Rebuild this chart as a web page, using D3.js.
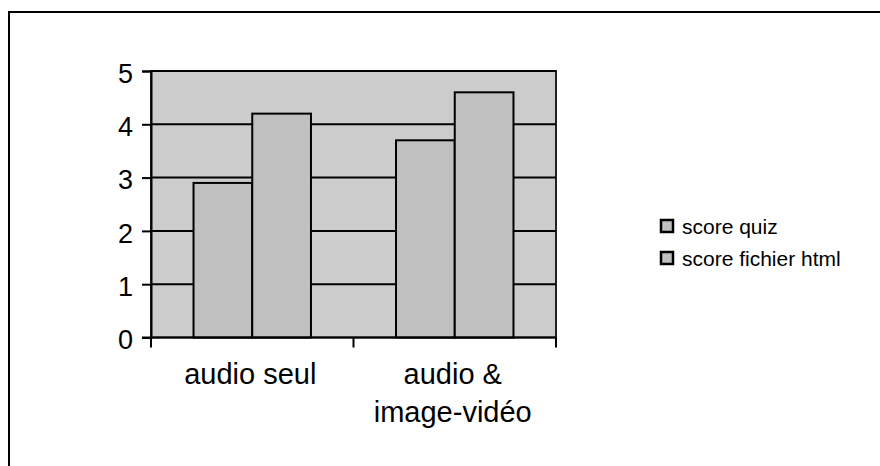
<!DOCTYPE html>
<html>
<head>
<meta charset="utf-8">
<script src="https://cdn.jsdelivr.net/npm/d3@7"></script>
<style>
  html, body { margin: 0; padding: 0; background: #fff; }
  svg { display: block; font-family: Arial, "Liberation Sans", sans-serif; }
</style>
</head>
<body>
<svg id="chart" width="880" height="466"></svg>
<script>
// Chart data
const categories = [["audio seul"], ["audio &", "image-vidéo"]];
const seriesNames = ["score quiz", "score fichier html"];
const scoreQuiz = [2.9, 3.7];
const scoreHtml = [4.2, 4.6];
const yTicks = [0, 1, 2, 3, 4, 5];

const svg = d3.select("#chart");
const W = 880, H = 466;
const plot = { left: 151, top: 71, right: 556, bottom: 337.5 };

// Outer frame (runs past the right and bottom edges)
svg.append("rect")
  .attr("x", 9).attr("y", 12)
  .attr("width", W + 20).attr("height", H + 20)
  .attr("fill", "#fff").attr("stroke", "#000").attr("stroke-width", 2);

const catKeys = categories.map(c => c.join(" "));
const x0 = d3.scaleBand().domain(catKeys).range([plot.left, plot.right]).padding(0);
const bw = x0.bandwidth();
const x1 = d3.scaleBand().domain(seriesNames).range([bw * 0.21, bw * 0.79]).padding(0);
const y = d3.scaleLinear().domain([0, 5]).range([plot.bottom, plot.top]);

// Plot background with its frame
svg.append("rect")
  .attr("x", plot.left).attr("y", plot.top)
  .attr("width", plot.right - plot.left).attr("height", plot.bottom - plot.top)
  .attr("fill", "#cccccc").attr("stroke", "#222").attr("stroke-width", 2);

// Horizontal gridlines
svg.append("g").selectAll("line")
  .data(yTicks.filter(t => t > 0))
  .join("line")
  .attr("x1", plot.left).attr("x2", plot.right)
  .attr("y1", d => y(d)).attr("y2", d => y(d))
  .attr("stroke", "#000").attr("stroke-width", 2);

// Bars
const rows = catKeys.map((k, i) => ({ key: k, values: [scoreQuiz[i], scoreHtml[i]] }));
const groups = svg.append("g").selectAll("g")
  .data(rows).join("g")
  .attr("transform", d => `translate(${x0(d.key)},0)`);
groups.selectAll("rect")
  .data(d => d.values.map((v, j) => ({ name: seriesNames[j], v })))
  .join("rect")
  .attr("x", d => x1(d.name))
  .attr("y", d => y(d.v))
  .attr("width", x1.bandwidth())
  .attr("height", d => y(0) - y(d.v))
  .attr("fill", "#c0c0c0")
  .attr("stroke", "#000").attr("stroke-width", 2);

// Y axis
const yAxis = d3.axisLeft(y).tickValues(yTicks).tickSize(9).tickPadding(9).tickFormat(d3.format("d"));
const gy = svg.append("g").attr("transform", `translate(${plot.left},0)`).call(yAxis);
gy.select(".domain").attr("stroke", "#000").attr("stroke-width", 2);
gy.selectAll(".tick line").attr("stroke", "#000").attr("stroke-width", 2);
gy.selectAll(".tick text")
  .attr("font-size", 27).attr("fill", "#000").attr("dy", "0.42em")
  .attr("font-family", "Arial, 'Liberation Sans', sans-serif");

// X axis baseline with ticks at category boundaries
const gx = svg.append("g");
gx.append("line")
  .attr("x1", plot.left - 9).attr("x2", plot.right)
  .attr("y1", y(0)).attr("y2", y(0))
  .attr("stroke", "#000").attr("stroke-width", 2);
const bounds = catKeys.map(k => x0(k)).concat([x0(catKeys[catKeys.length - 1]) + bw]);
gx.selectAll("line.tick")
  .data(bounds).join("line").attr("class", "tick")
  .attr("x1", d => d).attr("x2", d => d)
  .attr("y1", y(0)).attr("y2", y(0) + 10)
  .attr("stroke", "#000").attr("stroke-width", 2);

// Category labels
const labels = svg.append("g").selectAll("text")
  .data(categories.map((lines, i) => ({ key: catKeys[i], lines })))
  .join("text")
  .attr("text-anchor", "middle")
  .attr("font-size", 29)
  .attr("fill", "#000")
  .attr("y", 384);
labels.selectAll("tspan")
  .data(d => d.lines.map(l => ({ l, x: x0(d.key) + bw / 2 - 2 })))
  .join("tspan")
  .attr("x", d => d.x)
  .attr("dy", (d, i) => i === 0 ? 0 : 38)
  .text(d => d.l);

// Legend
const legend = svg.append("g").attr("transform", "translate(661,220)");
const item = legend.selectAll("g").data(seriesNames).join("g")
  .attr("transform", (d, i) => `translate(0,${i * 32})`);
item.append("rect")
  .attr("x", 0).attr("y", 0).attr("width", 12).attr("height", 12)
  .attr("fill", "#c0c0c0").attr("stroke", "#000").attr("stroke-width", 2.5);
item.append("text")
  .attr("x", 21).attr("y", 13.5)
  .attr("font-size", 21).attr("fill", "#000")
  .text(d => d);
</script>
</body>
</html>
